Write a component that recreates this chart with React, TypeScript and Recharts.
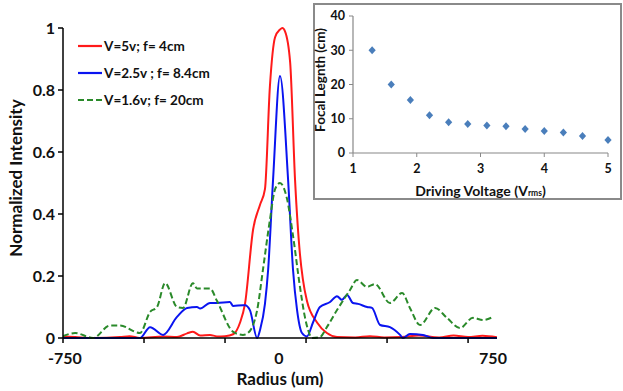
import React from "react";
import {
  LineChart,
  Line,
  XAxis,
  YAxis,
  ScatterChart,
  Scatter,
  Label,
} from "recharts";

// ---- Main chart data (radius in um, normalized intensity) ----
const redRadius = [-750, -708, -646, -553, -520, -484, -404, -356, -321, -301, -276, -242, -218, -190, -162, -138, -121, -93, -69, -52, -35, -17, 0, 8, 17, 35, 52, 69, 79, 93, 128, 162, 197, 260, 311, 360, 420, 480, 550, 600, 650, 700, 750];
const redIntensity = [0.005, 0.003, 0, 0.003, 0.006, 0, 0.005, 0.003, 0.015, 0.02, 0.008, 0.01, 0.005, 0.006, 0.012, 0.05, 0.11, 0.35, 0.43, 0.48, 0.81, 0.97, 0.995, 1.0, 0.99, 0.89, 0.51, 0.27, 0.19, 0.12, 0.05, 0.016, 0.003, 0.002, 0.006, 0.002, 0.003, 0.008, 0.002, 0.008, 0.003, 0.007, 0.002];

const blueRadius = [-750, -600, -484, -449, -404, -356, -321, -287, -276, -242, -218, -173, -162, -128, -121, -104, -79, -69, -52, -41, -24, 0, 28, 45, 59, 76, 93, 114, 138, 173, 197, 214, 232, 252, 270, 301, 318, 346, 380, 415, 425, 449, 494, 529, 600, 750];
const blueIntensity = [0, 0, 0, 0.035, 0.01, 0.068, 0.097, 0.1, 0.095, 0.113, 0.113, 0.116, 0.103, 0.106, 0.106, 0.09, 0, 0.026, 0.11, 0.22, 0.51, 0.845, 0.51, 0.22, 0.09, 0.016, 0.005, 0.05, 0.1, 0.116, 0.135, 0.123, 0.139, 0.113, 0.11, 0.1, 0.097, 0.042, 0.035, 0.01, 0, 0.013, 0.01, 0, 0, 0];

const greenRadius = [-750, -708, -646, -588, -553, -484, -449, -425, -397, -356, -335, -301, -287, -242, -218, -162, -128, -111, -79, -59, -35, -17, 0, 24, 45, 69, 86, 97, 111, 138, 162, 197, 242, 266, 301, 328, 380, 422, 449, 484, 536, 577, 622, 667, 702, 736];
const greenIntensity = [0.006, 0.016, 0, 0.04, 0.04, 0.016, 0.084, 0.1, 0.177, 0.1, 0.097, 0.177, 0.16, 0.16, 0.12, 0.02, 0.01, 0.016, 0.09, 0.22, 0.38, 0.48, 0.5, 0.45, 0.33, 0.165, 0.068, 0.026, 0, 0.003, 0.035, 0.09, 0.155, 0.187, 0.165, 0.174, 0.113, 0.145, 0.097, 0.042, 0.097, 0.065, 0.032, 0.065, 0.058, 0.068];

const seriesNames = ["V=5v; f= 4cm", "V=2.5v ; f= 8.4cm", "V=1.6v; f= 20cm"];
const xLabelTicks = [-750, 0, 750];
const xMarkTicks = [-750, -470, -190, 90, 370, 650];
const yTicks = [0, 0.2, 0.4, 0.6, 0.8, 1];

// ---- Inset data ----
const drivingVoltage = [1.3, 1.6, 1.9, 2.2, 2.5, 2.8, 3.1, 3.4, 3.7, 4.0, 4.3, 4.6, 5.0];
const focalLength = [30, 20, 15.5, 11, 9, 8.5, 8, 7.8, 7, 6.4, 6, 5, 3.8];
const insetXTicks = [1, 2, 3, 4, 5];
const insetYTicks = [0, 10, 20, 30, 40];

const build = (rs: number[], vs: number[]) => rs.map((r, i) => ({ r, v: vs[i] }));
const redData = build(redRadius, redIntensity);
const blueData = build(blueRadius, blueIntensity);
const greenData = build(greenRadius, greenIntensity);
const insetData = drivingVoltage.map((x, i) => ({ x, y: focalLength[i] }));

const FONT = "Lato, 'Open Sans', sans-serif";
const RED = "#ff1a1a";
const BLUE = "#0a14f0";
const GREEN = "#2a8a2a";
const MARKER = "#4a7ebb";

const allXTicks = Array.from(new Set([...xMarkTicks, ...xLabelTicks])).sort((a, b) => a - b);

const XTick = (props: any) => {
  const { x, y, payload } = props;
  const v = payload.value;
  return (
    <g>
      {xMarkTicks.includes(v) && (
        <line x1={x} x2={x} y1={y} y2={y + 5} stroke="#000" strokeWidth={1.5} />
      )}
      {xLabelTicks.includes(v) && (
        <text
          x={v === 750 ? x - 4 : v === 0 ? x - 1 : x + 2}
          y={y + 19}
          textAnchor="middle"
          dominantBaseline="central"
          fontFamily={FONT}
          fontWeight="bold"
          fontSize={16}
          fill="#111"
        >
          {v}
        </text>
      )}
    </g>
  );
};

const Diamond = (props: any) => {
  const { cx, cy } = props;
  if (cx == null || cy == null) return null;
  const w = 3.6;
  const h = 4;
  return (
    <path
      d={`M${cx},${cy - h} L${cx + w},${cy} L${cx},${cy + h} L${cx - w},${cy} Z`}
      fill={MARKER}
    />
  );
};

const LegendBox = () => {
  const items = [
    { name: seriesNames[0], color: RED, dash: undefined },
    { name: seriesNames[1], color: BLUE, dash: undefined },
    { name: seriesNames[2], color: GREEN, dash: "6 3" },
  ];
  return (
    <svg
      width={170}
      height={90}
      style={{ position: "absolute", left: 78, top: 36, overflow: "visible" }}
    >
      {items.map((it, i) => (
        <g key={it.name}>
          <line
            x1={0}
            x2={24}
            y1={10 + i * 27}
            y2={10 + i * 27}
            stroke={it.color}
            strokeWidth={2.2}
            strokeDasharray={it.dash}
          />
          <text
            x={26}
            y={10 + i * 27}
            dominantBaseline="central"
            fontFamily={FONT}
            fontWeight="bold"
            fontSize={13.5}
            fill="#111"
          >
            {it.name}
          </text>
        </g>
      ))}
    </svg>
  );
};

export default function App() {
  return (
    <div
      style={{
        position: "absolute",
        left: 0,
        top: 0,
        width: 623,
        height: 391,
        background: "#fff",
        overflow: "hidden",
      }}
    >
      <LineChart
        width={623}
        height={391}
        margin={{ top: 28, right: 126, bottom: 0, left: 0 }}
      >
        <XAxis
          type="number"
          dataKey="r"
          domain={[-750, 750]}
          ticks={allXTicks}
          interval={0}
          tick={<XTick />}
          tickLine={false}
          tickSize={0}
          tickMargin={0}
          height={53}
          axisLine={{ stroke: "#000", strokeWidth: 1.5 }}
          allowDataOverflow
        >
          <Label
            content={(p: any) => {
              const vb = p.viewBox;
              return (
                <text
                  x={vb.x + vb.width / 2}
                  y={vb.y + 40}
                  textAnchor="middle"
                  dominantBaseline="central"
                  fontFamily={FONT}
                  fontWeight="bold"
                  fontSize={17}
                  fill="#111"
                >
                  Radius (um)
                </text>
              );
            }}
          />
        </XAxis>
        <YAxis
          type="number"
          domain={[0, 1]}
          ticks={yTicks}
          interval={0}
          width={63}
          tickSize={5}
          tickMargin={3}
          tickLine={{ stroke: "#000", strokeWidth: 1.5 }}
          axisLine={{ stroke: "#000", strokeWidth: 1.5 }}
          tick={{ fontFamily: FONT, fontWeight: "bold", fontSize: 16, fill: "#111" }}
        >
          <Label
            content={() => {
              const cx = 15;
              const cy = 178;
              return (
                <text
                  x={cx}
                  y={cy}
                  transform={`rotate(-90, ${cx}, ${cy})`}
                  textAnchor="middle"
                  dominantBaseline="central"
                  fontFamily={FONT}
                  fontWeight="bold"
                  fontSize={17}
                  fill="#111"
                >
                  Normalized Intensity
                </text>
              );
            }}
          />
        </YAxis>
        <Line
          data={redData}
          dataKey="v"
          name={seriesNames[0]}
          type="monotone"
          stroke={RED}
          strokeWidth={2}
          dot={false}
          isAnimationActive={false}
        />
        <Line
          data={blueData}
          dataKey="v"
          name={seriesNames[1]}
          type="monotone"
          stroke={BLUE}
          strokeWidth={2}
          dot={false}
          isAnimationActive={false}
        />
        <Line
          data={greenData}
          dataKey="v"
          name={seriesNames[2]}
          type="monotone"
          stroke={GREEN}
          strokeWidth={2}
          strokeDasharray="6 3"
          dot={false}
          isAnimationActive={false}
        />
      </LineChart>

      <LegendBox />

      <div
        style={{
          position: "absolute",
          left: 313,
          top: 3,
          width: 309,
          height: 197,
          background: "#fff",
          border: "2px solid #8a8a8a",
          boxSizing: "border-box",
        }}
      >
        <div style={{ position: "absolute", left: -2, top: -2 }}>
          <ScatterChart
            width={309}
            height={197}
            margin={{ top: 13, right: 14, bottom: 0, left: 0 }}
          >
            <XAxis
              type="number"
              dataKey="x"
              domain={[1, 5]}
              ticks={insetXTicks}
              interval={0}
              height={47}
              tickSize={4}
              tickMargin={7}
              tickLine={{ stroke: "#888" }}
              axisLine={{ stroke: "#888", strokeWidth: 1.2 }}
              tick={{ fontFamily: FONT, fontWeight: "bold", fontSize: 12.5, fill: "#111" }}
            >
              <Label
                content={(p: any) => {
                  const vb = p.viewBox;
                  return (
                    <text
                      x={vb.x + vb.width / 2}
                      y={187}
                      textAnchor="middle"
                      dominantBaseline="central"
                      fontFamily={FONT}
                      fontWeight="bold"
                      fontSize={14}
                      fill="#111"
                    >
                      Driving Voltage (V
                      <tspan fontSize={8.5} dy={3}>rms</tspan>
                      <tspan dy={-3}>)</tspan>
                    </text>
                  );
                }}
              />
            </XAxis>
            <YAxis
              type="number"
              dataKey="y"
              domain={[0, 40]}
              ticks={insetYTicks}
              interval={0}
              width={40}
              tickSize={4}
              tickMargin={4}
              tickLine={{ stroke: "#888" }}
              axisLine={{ stroke: "#888", strokeWidth: 1.2 }}
              tick={{ fontFamily: FONT, fontWeight: "bold", fontSize: 12.5, fill: "#111" }}
            >
              <Label
                content={() => {
                  const cx = 7;
                  const cy = 77;
                  return (
                    <text
                      x={cx}
                      y={cy}
                      transform={`rotate(-90, ${cx}, ${cy})`}
                      textAnchor="middle"
                      dominantBaseline="central"
                      fontFamily={FONT}
                      fontWeight="bold"
                      fontSize={13.5}
                      fill="#111"
                    >
                      Focal Legnth (cm)
                    </text>
                  );
                }}
              />
            </YAxis>
            <Scatter
              data={insetData}
              fill={MARKER}
              shape={<Diamond />}
              isAnimationActive={false}
            />
          </ScatterChart>
        </div>
      </div>
    </div>
  );
}
